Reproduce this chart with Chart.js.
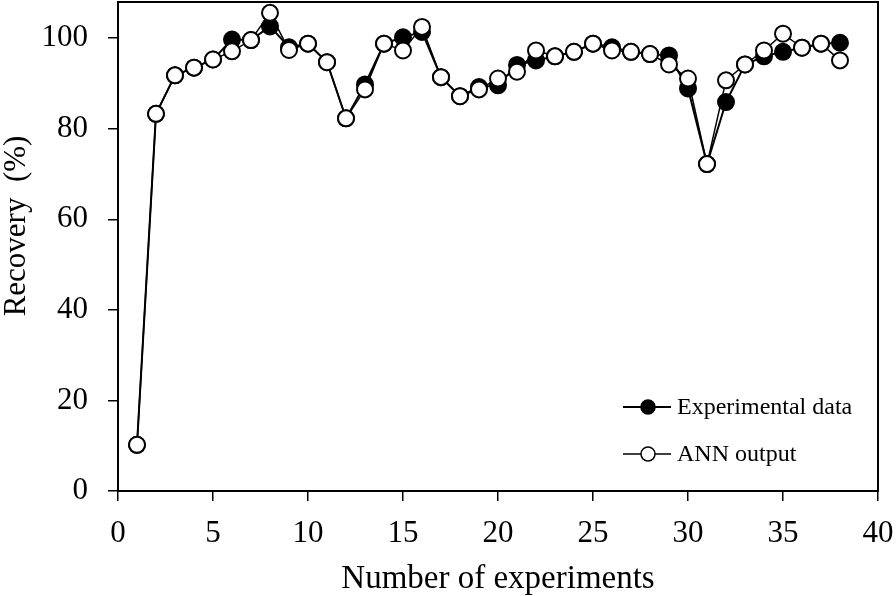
<!DOCTYPE html>
<html>
<head>
<meta charset="utf-8">
<script src="https://cdn.jsdelivr.net/npm/chart.js@4.4.1/dist/chart.umd.min.js"></script>
<style>
  body { margin: 0; background: #fff; }
</style>
</head>
<body>
<canvas id="myChart" width="896" height="596"></canvas>
<script>
const experiments = [1, 2, 3, 4, 5, 6, 7, 8, 9, 10, 11, 12, 13, 14, 15, 16, 17, 18, 19, 20,
    21, 22, 23, 24, 25, 26, 27, 28, 29, 30, 31, 32, 33, 34, 35, 36, 37, 38];
const experimental = [10.2, 83.3, 91.8, 93.5, 95.3, 99.7, 99.6, 102.6, 98.0, 98.8, 94.7, 82.3,
    89.8, 98.8, 100.2, 101.4, 91.4, 87.2, 89.2, 89.6, 94.1, 95.1, 96.0, 97.0, 98.8, 98.0,
    97.0, 96.5, 96.2, 88.9, 72.2, 85.9, 94.2, 96.0, 97.0, 97.9, 98.8, 99.0];
const annOutput = [10.2, 83.3, 91.8, 93.5, 95.3, 97.1, 99.6, 105.6, 97.4, 98.8, 94.7, 82.3,
    88.7, 98.8, 97.3, 102.5, 91.4, 87.2, 88.7, 91.1, 92.6, 97.3, 96.0, 97.0, 98.8, 97.3,
    97.0, 96.5, 94.2, 91.1, 72.2, 90.7, 94.2, 97.3, 101.0, 97.9, 98.8, 95.1];
const xTicks = [0, 5, 10, 15, 20, 25, 30, 35, 40];
const yTicks = [0, 20, 40, 60, 80, 100];

const serif = "'Liberation Serif', 'Times New Roman', serif";

function toPoints(ys) {
    return experiments.map((x, i) => ({ x: x, y: ys[i] }));
}

// no extra room for labels, the box is sized by hand
function noPad(scale) {
    scale.paddingTop = 0;
    scale.paddingBottom = 0;
    scale.paddingLeft = 0;
    scale.paddingRight = 0;
}

// frame, y title and legend drawn by hand
const extras = {
    id: "extras",
    beforeDatasetsDraw(chart) {
        const ctx = chart.ctx;
        const a = chart.chartArea;
        ctx.save();
        ctx.strokeStyle = "#000";
        ctx.lineWidth = 2;
        ctx.strokeRect(a.left, a.top, a.right - a.left, a.bottom - a.top);
        ctx.restore();
    },
    afterDraw(chart) {
        const ctx = chart.ctx;
        ctx.save();
        ctx.fillStyle = "#000";
        ctx.font = "31px " + serif;
        ctx.translate(25, 226);
        ctx.rotate(-Math.PI / 2);
        ctx.textAlign = "center";
        ctx.textBaseline = "alphabetic";
        ctx.fillText("Recovery  (%)", 0, 0);
        ctx.restore();

        const items = [
            { label: "Experimental data", y: 407, fill: "#000", lw: 2 },
            { label: "ANN output", y: 454, fill: "#fff", lw: 1.5 }
        ];
        ctx.save();
        items.forEach(it => {
            ctx.strokeStyle = "#000";
            ctx.lineWidth = it.lw;
            ctx.beginPath();
            ctx.moveTo(623, it.y);
            ctx.lineTo(671, it.y);
            ctx.stroke();
            ctx.beginPath();
            ctx.arc(648, it.y, 7, 0, Math.PI * 2);
            ctx.fillStyle = it.fill;
            ctx.fill();
            ctx.lineWidth = 1.5;
            ctx.stroke();
            ctx.fillStyle = "#000";
            ctx.font = "24px " + serif;
            ctx.textAlign = "left";
            ctx.textBaseline = "middle";
            ctx.fillText(it.label, 677, it.y + 1);
        });
        ctx.restore();
    }
};

new Chart("myChart", {
    type: "line",
    data: {
        datasets: [{
            label: "Experimental data",
            data: toPoints(experimental),
            borderColor: "#000",
            borderWidth: 2,
            backgroundColor: "#000",
            pointBackgroundColor: "#000",
            pointBorderColor: "#000",
            pointBorderWidth: 2,
            pointRadius: 8,
            tension: 0,
            clip: false,
            order: 2
        }, {
            label: "ANN output",
            data: toPoints(annOutput),
            borderColor: "#000",
            borderWidth: 1.5,
            backgroundColor: "#fff",
            pointBackgroundColor: "#fff",
            pointBorderColor: "#000",
            pointBorderWidth: 2,
            pointRadius: 8,
            tension: 0,
            clip: false,
            order: 1
        }]
    },
    options: {
        responsive: false,
        animation: false,
        layout: { autoPadding: false, padding: { top: 2, right: 18, left: 0, bottom: 0 } },
        plugins: {
            legend: { display: false },
            tooltip: { enabled: false }
        },
        scales: {
            x: {
                type: "linear",
                min: 0,
                max: 40,
                afterFit(scale) { scale.height = 105; noPad(scale); },
                afterBuildTicks(scale) { scale.ticks = xTicks.map(v => ({ value: v })); },
                grid: { drawOnChartArea: false, drawTicks: true, tickLength: 10, color: "#000", lineWidth: 1.5 },
                border: { display: true, color: "#000", width: 2 },
                ticks: { color: "#000", font: { family: serif, size: 31 }, padding: 14, maxRotation: 0 },
                title: {
                    display: true,
                    text: "Number of experiments",
                    color: "#000",
                    font: { family: serif, size: 33 },
                    padding: { top: 0, bottom: -3 }
                }
            },
            y: {
                min: 0,
                max: 108,
                afterFit(scale) { scale.width = 118; noPad(scale); },
                afterBuildTicks(scale) { scale.ticks = yTicks.map(v => ({ value: v })); },
                grid: { drawOnChartArea: false, drawTicks: true, tickLength: 10, color: "#000", lineWidth: 1.5 },
                border: { display: true, color: "#000", width: 2 },
                ticks: { color: "#000", font: { family: serif, size: 31 }, padding: 20 }
            }
        }
    },
    plugins: [extras]
});
</script>
</body>
</html>
